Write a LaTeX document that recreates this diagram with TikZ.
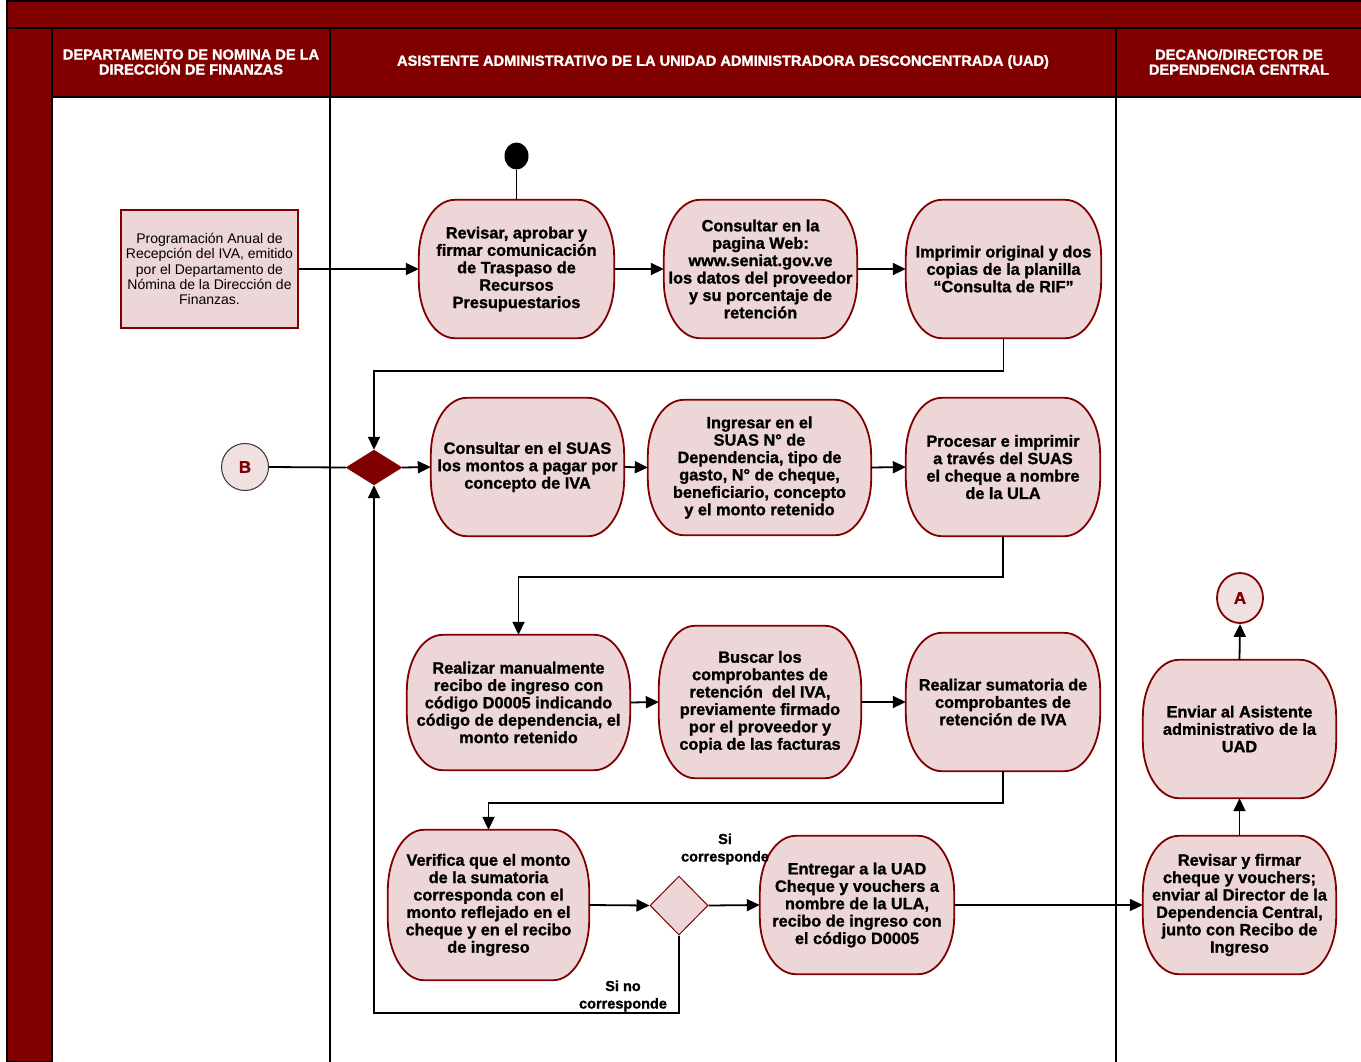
\documentclass[tikz,border=0pt]{standalone}
\usepackage{fontspec}
\setmainfont{Liberation Sans}[BoldFeatures={FakeBold=1.3}]
\usetikzlibrary{arrows.meta,shapes.geometric,calc,backgrounds}
\definecolor{dred}{RGB}{128,0,0}
\definecolor{pinkf}{RGB}{237,214,216}
\definecolor{pinkc}{RGB}{240,224,224}
\newcommand\elrect[3]{%
 \filldraw[draw=dred,fill=pinkf,line width=1.8pt] ($(#1.north west)+(#2,0pt)$) -- ($(#1.north east)+(-#2,0pt)$)
  arc[start angle=90,end angle=0,x radius=#2,y radius=#3] -- ($(#1.south east)+(0pt,#3)$)
  arc[start angle=0,end angle=-90,x radius=#2,y radius=#3] -- ($(#1.south west)+(#2,0pt)$)
  arc[start angle=270,end angle=180,x radius=#2,y radius=#3] -- ($(#1.north west)+(0pt,-#3)$)
  arc[start angle=180,end angle=90,x radius=#2,y radius=#3] -- cycle;}
\begin{document}
\begin{tikzpicture}[x=1pt,y=-1pt,
 act/.style={inner sep=0pt,align=center,font=\fontsize{16.3}{17.4}\selectfont\bfseries},
 conn/.style={draw=black,line width=1.8pt,-{Triangle[length=13pt,width=12pt]}},
 plainline/.style={draw=black,line width=1.8pt},
 hdr/.style={text=white,align=center,font=\fontsize{14.6}{15}\selectfont\bfseries},
 lbl/.style={align=center,font=\fontsize{14.5}{17.5}\selectfont\bfseries,inner sep=0pt},
 circ/.style={circle,inner sep=0pt,minimum size=47pt,fill=pinkc,text=dred,font=\fontsize{17}{17}\selectfont\bfseries},
]
\useasboundingbox (0,0) rectangle (1361,1061);
% frame
\begin{pgfonlayer}{background}
\fill[white] (0,0) rectangle (1361,1061);
\filldraw[fill=dred,draw=black,line width=1.5pt] (7,1) rectangle (1362,28);
\filldraw[fill=dred,draw=black,line width=1.5pt] (7,28) rectangle (52,1062);
\filldraw[fill=dred,draw=black,line width=1.5pt] (52,28) rectangle (330,97);
\filldraw[fill=dred,draw=black,line width=1.5pt] (330,28) rectangle (1116,97);
\filldraw[fill=dred,draw=black,line width=1.5pt] (1116,28) rectangle (1362,97);
\draw[black,line width=1.5pt] (330,97) -- (330,1062);
\draw[black,line width=1.5pt] (1116,97) -- (1116,1062);
\end{pgfonlayer}
\node[hdr] (h1) at (191,62) {DEPARTAMENTO DE NOMINA DE LA\\DIRECCIÓN DE FINANZAS};
\node[hdr] (h2) at (723,62) {ASISTENTE ADMINISTRATIVO DE LA UNIDAD ADMINISTRADORA DESCONCENTRADA (UAD)};
\node[hdr] (h3) at (1239,62) {DECANO/DIRECTOR DE\\DEPENDENCIA CENTRAL};

% nodes
\node[draw=dred,line width=1.8pt,fill=pinkf,minimum width=177pt,minimum height=118pt,inner sep=0pt,align=center,font=\fontsize{14}{15.3}\selectfont] (box) at (209.5,269) {Programación Anual de\\Recepción del IVA, emitido\\por el Departamento de\\Nómina de la Dirección de\\Finanzas.};
\node[ellipse,fill=black,minimum width=24pt,minimum height=27pt,inner sep=0pt] (dot) at (516.5,156) {};
\node[act,minimum width=195pt,minimum height=138pt] (n1) at (516.5,269) {Revisar, aprobar y\\firmar comunicación\\de Traspaso de\\Recursos\\Presupuestarios};
\node[act,minimum width=193pt,minimum height=138pt] (n2) at (760.5,269) {Consultar en la\\pagina Web:\\www.seniat.gov.ve\\los datos del proveedor\\y su porcentaje de\\retención};
\node[act,minimum width=195pt,minimum height=138pt] (n3) at (1003.5,269) {Imprimir original y dos\\copias de la planilla\\“Consulta de RIF”};

\node[circ,draw=black!80,line width=1pt] (b) at (245,467) {B};
\node[diamond,draw=dred,fill=dred,minimum width=56pt,minimum height=35pt,inner sep=0pt] (d1) at (374,467.5) {};
\node[act,minimum width=193pt,minimum height=138pt] (n4) at (527.5,467) {Consultar en el SUAS\\los montos a pagar por\\concepto de IVA};
\node[act,minimum width=223pt,minimum height=135pt] (n5) at (759.5,467.5) {Ingresar en el\\SUAS N° de\\Dependencia, tipo de\\gasto, N° de cheque,\\beneficiario, concepto\\y el monto retenido};
\node[act,minimum width=194pt,minimum height=138pt] (n6) at (1003,467) {Procesar e imprimir\\a través del SUAS\\el cheque a nombre\\de la ULA};

\node[act,minimum width=223pt,minimum height=135pt] (n7) at (518.5,702.5) {Realizar manualmente\\recibo de ingreso con\\código D0005 indicando\\código de dependencia, el\\monto retenido};
\node[act,minimum width=202pt,minimum height=152pt] (n8) at (760,702) {Buscar los\\comprobantes de\\retención\ \ del IVA,\\previamente firmado\\por el proveedor y\\copia de las facturas};
\node[act,minimum width=194pt,minimum height=138pt] (n9) at (1003,702) {Realizar sumatoria de\\comprobantes de\\retención de IVA};

\node[act,minimum width=201pt,minimum height=150pt] (n10) at (488.5,905) {Verifica que el monto\\de la sumatoria\\corresponda con el\\monto reflejado en el\\cheque y en el recibo\\de ingreso};
\node[diamond,draw=dred,fill=pinkf,line width=1pt,minimum width=58pt,minimum height=59pt,inner sep=0pt] (d2) at (679,905.5) {};
\node[act,minimum width=194pt,minimum height=138pt] (n11) at (857,905) {Entregar a la UAD\\Cheque y vouchers a\\nombre de la ULA,\\recibo de ingreso con\\el código D0005};
\node[act,minimum width=193pt,minimum height=138pt] (n12) at (1239.5,905) {Revisar y firmar\\cheque y vouchers;\\enviar al Director de la\\Dependencia Central,\\junto con Recibo de\\Ingreso};
\node[act,minimum width=193pt,minimum height=138pt] (n13) at (1239.5,729) {Enviar al Asistente\\administrativo de la\\UAD};
\node[circ,draw=dred,line width=1.8pt,minimum width=46pt,minimum height=50pt,ellipse] (a) at (1240,598) {A};

\node[lbl] (l1) at (725,849) {Si\\corresponde};
\node[lbl] (l2) at (623,996) {Si no\\corresponde};

% activity shapes (elliptical corners)
\begin{pgfonlayer}{background}
\foreach \n/\ry in {n1/57pt,n2/57pt,n3/57pt,n4/57pt,n5/56pt,n6/57pt,n7/56pt,n8/62pt,n9/57pt,n10/61pt,n11/57pt,n12/57pt,n13/57pt}{\elrect{\n}{36pt}{\ry}}
\end{pgfonlayer}

% connectors
\draw[plainline] (dot.south) -- (n1.north);
\draw[conn] (box.east) -- (n1.west);
\draw[conn] (n1.east) -- (n2.west);
\draw[conn] (n2.east) -- (n3.west);
\draw[conn] (n3.south) -- ++(0,33) -| (d1.north);
\draw[plainline] (b.east) -- (d1.west);
\draw[conn] (d1.east) -- (n4.west);
\draw[conn] (n4.east) -- (n5.west);
\draw[conn] (n5.east) -- (n6.west);
\draw[conn] (n6.south) -- ++(0,41) -| (n7.north);
\draw[conn] (n7.east) -- (n8.west);
\draw[conn] (n8.east) -- (n9.west);
\draw[conn] (n9.south) -- ++(0,32) -| (n10.north);
\draw[conn] (n10.east) -- (d2.west);
\draw[conn] (d2.east) -- (n11.west);
\draw[conn] (n11.east) -- (n12.west);
\draw[conn] (n12.north) -- (n13.south);
\draw[conn] (n13.north) -- (a.south);
\draw[conn] (d2.south) -- ++(0,77.5) -| (d1.south);
\end{tikzpicture}
\end{document}
